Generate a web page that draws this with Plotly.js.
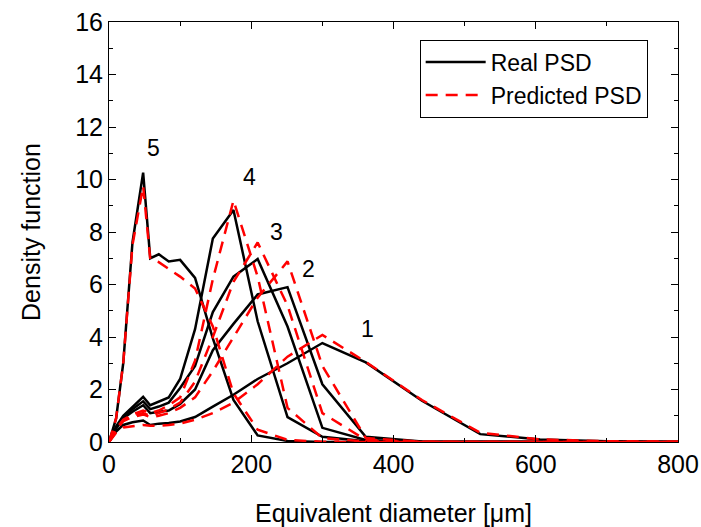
<!DOCTYPE html>
<html>
<head>
<meta charset="utf-8">
<script src="https://cdn.plot.ly/plotly-3.0.1.min.js"></script>
<style>html,body{margin:0;padding:0;background:#fff;}#chart{width:701px;height:527px;}</style>
</head>
<body>
<div id="chart"></div>
<script>
// Equivalent diameter bins (µm)
const diameter = [0, 10, 20, 33, 48, 58, 70, 84, 100, 121, 146, 175, 209, 251, 300, 361, 440, 522, 606, 700, 800];

// Real PSD (black) for samples 1..5
const real1 = [0, 0.4, 0.65, 0.75, 0.82, 0.65, 0.7, 0.72, 0.78, 0.95, 1.35, 1.8, 2.4, 3.0, 3.77, 3.03, 1.57, 0.3, 0.1, 0.03, 0];
const real2 = [0, 0.5, 0.9, 1.15, 1.4, 1.1, 1.15, 1.2, 1.45, 2.0, 3.5, 4.5, 5.62, 5.9, 2.2, 0.2, 0.02, 0, 0, 0, 0];
const real3 = [0, 0.55, 0.95, 1.25, 1.55, 1.25, 1.35, 1.5, 2.06, 2.9, 4.95, 6.3, 6.97, 4.4, 0.54, 0.08, 0, 0, 0, 0, 0];
const real4 = [0, 0.6, 1.0, 1.35, 1.72, 1.4, 1.55, 1.7, 2.4, 4.3, 7.75, 8.84, 4.6, 0.95, 0.2, 0.03, 0, 0, 0, 0, 0];
const real5 = [0, 0.9, 3.0, 7.6, 10.26, 7.0, 7.15, 6.88, 6.94, 6.25, 3.95, 1.6, 0.25, 0.04, 0, 0, 0, 0, 0, 0, 0];

// Predicted PSD (red dashed)
const pred1 = [0, 0.35, 0.55, 0.6, 0.65, 0.62, 0.62, 0.65, 0.7, 0.85, 1.1, 1.5, 2.2, 3.25, 4.08, 3.05, 1.6, 0.35, 0.1, 0.03, 0.01];
const pred2 = [0, 0.45, 0.8, 0.95, 1.05, 0.95, 1.0, 1.1, 1.3, 1.7, 2.7, 4.0, 5.5, 6.88, 2.9, 0.15, 0.01, 0, 0, 0, 0];
const pred3 = [0, 0.5, 0.8, 1.0, 1.1, 1.0, 1.1, 1.25, 1.5, 2.3, 4.0, 6.1, 7.6, 5.2, 1.1, 0.08, 0, 0, 0, 0, 0];
const pred4 = [0, 0.5, 0.85, 1.05, 1.2, 1.1, 1.2, 1.4, 1.7, 3.1, 6.2, 9.2, 6.3, 1.3, 0.15, 0.02, 0, 0, 0, 0, 0];
const pred5 = [0, 0.9, 3.0, 7.5, 9.75, 6.97, 6.85, 6.6, 6.3, 5.85, 4.4, 1.85, 0.47, 0.08, 0.01, 0, 0, 0, 0, 0, 0];

// Curve labels
const labelText = ['1', '2', '3', '4', '5'];
const labelX = [363, 280, 236, 197, 63];
const labelY = [4.3, 6.6, 8.0, 10.1, 11.2];

const realSets = [real1, real2, real3, real4, real5];
const predSets = [pred1, pred2, pred3, pred4, pred5];

const traces = [];
realSets.forEach((ys, i) => {
  traces.push({
    x: diameter, y: ys, type: 'scatter', mode: 'lines',
    name: 'Real PSD', legendgroup: 'real', showlegend: i === 0,
    line: {color: '#000000', width: 2.5}
  });
});
predSets.forEach((ys, i) => {
  traces.push({
    x: diameter, y: ys, type: 'scatter', mode: 'lines',
    name: 'Predicted PSD', legendgroup: 'pred', showlegend: i === 0,
    line: {color: '#ff0000', width: 2.5, dash: '12px,8px'}
  });
});

const FAM = 'Liberation Sans, Arial, sans-serif';
const annotations = labelText.map((t, i) => ({
  x: labelX[i], y: labelY[i], xref: 'x', yref: 'y', text: t, showarrow: false,
  font: {family: FAM, size: 23, color: '#000'}
}));

const font = {family: FAM, size: 25, color: '#000'};

const layout = {
  width: 701, height: 527,
  margin: {l: 109, r: 23, t: 22, b: 85},
  paper_bgcolor: '#fff', plot_bgcolor: '#fff',
  font: font,
  showlegend: true,
  legend: {
    x: 0.546, y: 0.958, xanchor: 'left', yanchor: 'top',
    bgcolor: '#fff', bordercolor: '#000', borderwidth: 1,
    font: {family: FAM, size: 23, color: '#000'},
    tracegroupgap: 0, itemwidth: 60
  },
  xaxis: {
    range: [0, 800], tickvals: [0, 200, 400, 600, 800],
    ticks: 'inside', ticklen: 7, tickwidth: 1, tickcolor: '#000',
    minor: {tickvals: [100, 300, 500, 700], ticks: 'inside', ticklen: 4, tickwidth: 1, tickcolor: '#000'},
    showline: true, linecolor: '#000', linewidth: 1, mirror: 'ticks',
    showgrid: false, zeroline: false,
    tickfont: font,
    title: {text: 'Equivalent diameter [μm]', font: font, standoff: 28}
  },
  yaxis: {
    range: [0, 16], tickvals: [0, 2, 4, 6, 8, 10, 12, 14, 16],
    ticks: 'inside', ticklen: 7, tickwidth: 1, tickcolor: '#000',
    minor: {tickvals: [1, 3, 5, 7, 9, 11, 13, 15], ticks: 'inside', ticklen: 4, tickwidth: 1, tickcolor: '#000'},
    showline: true, linecolor: '#000', linewidth: 1, mirror: 'ticks',
    showgrid: false, zeroline: false,
    tickfont: font,
    title: {text: 'Density function', font: font, standoff: 27}
  },
  annotations: annotations
};

Plotly.newPlot('chart', traces, layout, {displayModeBar: false, staticPlot: true});
</script>
</body>
</html>
